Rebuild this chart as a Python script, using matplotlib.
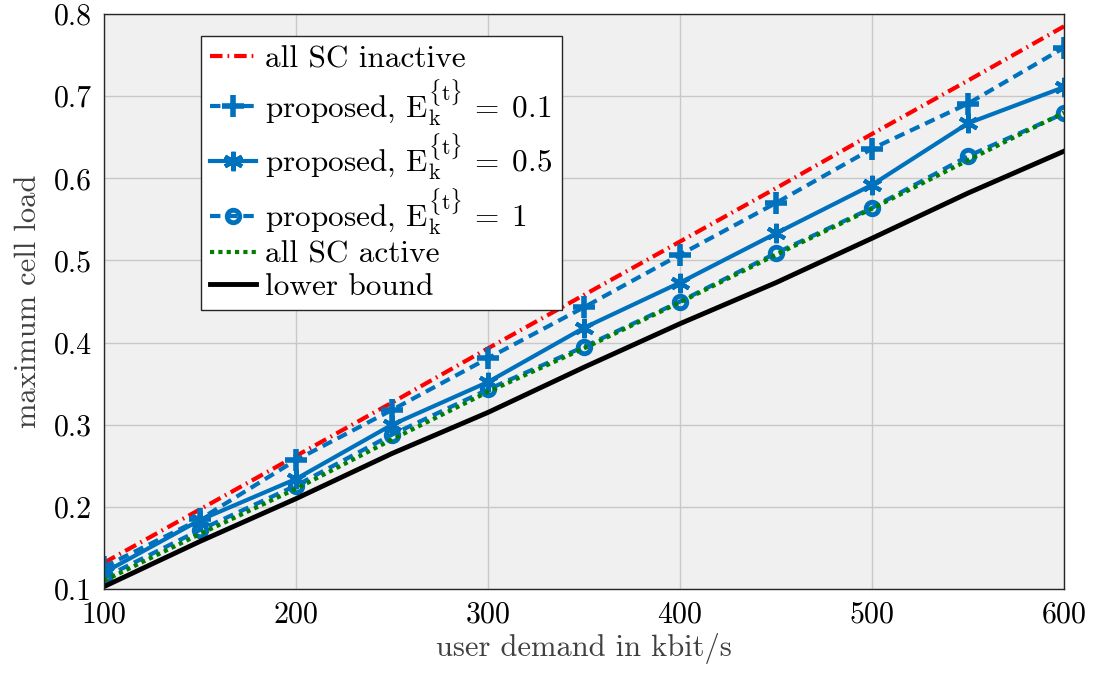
import matplotlib
matplotlib.use('Agg')
import matplotlib.pyplot as plt
import numpy as np

plt.rcParams['font.family'] = 'serif'
plt.rcParams['font.serif'] = ['cmr10', 'DejaVu Serif']
plt.rcParams['mathtext.fontset'] = 'cm'
plt.rcParams['axes.formatter.use_mathtext'] = True

demand = [100, 150, 200, 250, 300, 350, 400, 450, 500, 550, 600]
sc_inactive = [0.132, 0.197, 0.262, 0.327, 0.393, 0.458, 0.523, 0.588, 0.654, 0.719, 0.785]
prop_01 = [0.127, 0.185, 0.257, 0.318, 0.381, 0.443, 0.507, 0.570, 0.636, 0.691, 0.759]
prop_05 = [0.120, 0.184, 0.234, 0.300, 0.352, 0.418, 0.473, 0.533, 0.592, 0.667, 0.711]
prop_1 = [0.114, 0.172, 0.226, 0.288, 0.343, 0.395, 0.450, 0.509, 0.564, 0.627, 0.679]
sc_active = [0.110, 0.167, 0.222, 0.282, 0.340, 0.393, 0.449, 0.507, 0.563, 0.622, 0.680]
lower = [0.103, 0.158, 0.210, 0.265, 0.315, 0.370, 0.423, 0.473, 0.527, 0.582, 0.633]

blue = '#0072BD'
lab = r'proposed, $\mathrm{E}_\mathrm{k}^{\{\mathrm{t}\}}\,=\;%s$'

fig = plt.figure(figsize=(10.94, 6.8), dpi=100)
ax = fig.add_axes([0.0951, 0.1338, 0.8775, 0.8456])
ax.set_facecolor('#F0F0F0')

ax.plot(demand, sc_inactive, color='red', lw=3, dashes=(3, 1.2, 0.4, 1.2), label='all SC inactive')
ax.plot(demand, prop_01, color=blue, lw=3, dashes=(2.5, 1.5), marker='+', ms=16, mew=4, label=lab % '0.1')
ax.plot(demand, prop_05, color=blue, lw=3, ls='-', marker=(6, 2, 0), ms=14, mew=3, label=lab % '0.5')
ax.plot(demand, prop_1, color=blue, lw=3, dashes=(2.5, 1.5), marker='o', ms=9, mew=3.5, mfc='none', label=lab % '1')
ax.plot(demand, sc_active, color='green', lw=3, dashes=(1, 1), label='all SC active')
ax.plot(demand, lower, color='black', lw=3.5, ls='-', label='lower bound')

ax.set_xlim(100, 600)
ax.set_ylim(0.1, 0.8)
ax.set_xticks(np.arange(100, 601, 100))
ax.set_yticks(np.arange(0.1, 0.81, 0.1))
ax.set_yticklabels(['0.1', '0.2', '0.3', '0.4', '0.5', '0.6', '0.7', '0.8'])
ax.grid(True, color='#C8C8C8', lw=1)
ax.set_axisbelow(True)
ax.tick_params(direction='in', labelsize=21.5, length=0, pad=9)
for s in ax.spines.values():
    s.set_color('#262626')
    s.set_linewidth(1)

ax.set_xlabel('user demand in kbit/s', fontsize=22, color='#404040', labelpad=3)
ax.set_ylabel('maximum cell load', fontsize=22, color='#404040', labelpad=8)

leg = ax.legend(loc='upper left', bbox_to_anchor=(0.101, 0.962), borderaxespad=0,
                fontsize=22.5, handlelength=1.45, fancybox=False, framealpha=1,
                edgecolor='#262626', labelspacing=0.12, handletextpad=0.3,
                borderpad=0.3)
leg.get_frame().set_linewidth(1)

fig.savefig('out.png', dpi=100)
